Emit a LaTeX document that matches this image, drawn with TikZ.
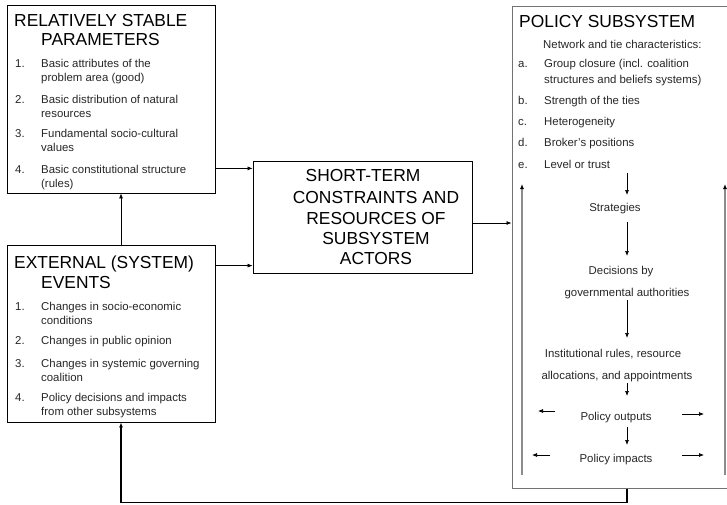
\documentclass[tikz,border=0pt]{standalone}
\usepackage{fontspec}
\setmainfont{Liberation Sans}
\usetikzlibrary{arrows.meta,calc}
\begin{document}
\begin{tikzpicture}[x=1pt,y=-1pt,
  box/.style={draw=black, line width=0.8pt, inner sep=0pt, minimum width=#1},
  gbox/.style={draw=black!55, line width=1pt, inner sep=0pt},
  ttl/.style={inner sep=0pt, anchor=base west, font=\fontsize{17.4}{20}\selectfont},
  ttc/.style={inner sep=0pt, anchor=base, font=\fontsize{17.4}{20}\selectfont},
  itx/.style={inner sep=0pt, anchor=base west, text=black!85, font=\fontsize{11.4}{13}\selectfont},
  flw/.style={inner sep=0pt, anchor=base, text=black!85, font=\fontsize{11.4}{13}\selectfont},
  arr/.style={-{Latex[length=5pt,width=4pt]}, line width=0.7pt},
  garr/.style={-{Latex[length=5pt,width=4pt,color=black]}, draw=black!45, line width=1.6pt},
]
\useasboundingbox (0,0) rectangle (727,505);
% boxes
\node[box=208, minimum height=188] (rsp) at (111,99) {};
\node[box=208, minimum height=177] (ext) at (111,333.5) {};
\node[box=219, minimum height=112] (sta) at (362.5,217) {};
\node[gbox, minimum width=233, minimum height=481] (pol) at (628.5,247.5) {};

% box 1 text
\node[ttl] (t1a) at (14,27) {RELATIVELY STABLE};
\node[ttl] (t1b) at (41,46) {PARAMETERS};
\node[itx] (n11) at (15,68) {1.};
\node[itx] (i11a) at (41,68) {Basic attributes of the};
\node[itx] (i11b) at (41,82) {problem area (good)};
\node[itx] (n12) at (15,104) {2.};
\node[itx] (i12a) at (41,104) {Basic distribution of natural};
\node[itx] (i12b) at (41,118) {resources};
\node[itx] (n13) at (15,138) {3.};
\node[itx] (i13a) at (41,138) {Fundamental socio-cultural};
\node[itx] (i13b) at (41,152) {values};
\node[itx] (n14) at (15,173) {4.};
\node[itx] (i14a) at (41,173) {Basic constitutional structure};
\node[itx] (i14b) at (41,187) {(rules)};

% box 2 text
\node[ttl] (t2a) at (14,268) {EXTERNAL (SYSTEM)};
\node[ttl] (t2b) at (41,288) {EVENTS};
\node[itx] (n21) at (15,310) {1.};
\node[itx] (i21a) at (41,310) {Changes in socio-economic};
\node[itx] (i21b) at (41,324) {conditions};
\node[itx] (n22) at (15,344) {2.};
\node[itx] (i22a) at (41,344) {Changes in public opinion};
\node[itx] (n23) at (15,367) {3.};
\node[itx] (i23a) at (41,367) {Changes in systemic governing};
\node[itx] (i23b) at (41,381) {coalition};
\node[itx] (n24) at (15,401) {4.};
\node[itx] (i24a) at (41,401) {Policy decisions and impacts};
\node[itx] (i24b) at (41,415) {from other subsystems};

% box 3 text
\node[ttc] (t3a) at (363,181) {SHORT-TERM};
\node[ttc] (t3b) at (376,203) {CONSTRAINTS AND};
\node[ttc] (t3c) at (376,224) {RESOURCES OF};
\node[ttc] (t3d) at (376,244) {SUBSYSTEM};
\node[ttc] (t3e) at (376,264) {ACTORS};

% policy subsystem text
\node[ttl] (t4) at (519,28) {POLICY SUBSYSTEM};
\node[itx] (net) at (543,49) {Network and tie characteristics:};
\node[itx] (la) at (518,68) {a.};
\node[itx] (pa1) at (544,68) {Group closure (incl. coalition};
\node[itx] (pa2) at (544,84) {structures and beliefs systems)};
\node[itx] (lb) at (518,105) {b.};
\node[itx] (pb) at (544,105) {Strength of the ties};
\node[itx] (lc) at (518,126) {c.};
\node[itx] (pc) at (544,126) {Heterogeneity};
\node[itx] (ld) at (518,147) {d.};
\node[itx] (pd) at (544,147) {Broker's positions};
\node[itx] (le) at (518,168) {e.};
\node[itx] (pe) at (544,168) {Level or trust};

\node[flw] (strat) at (615,211) {Strategies};
\node[flw] (dec1) at (621,274) {Decisions by};
\node[flw] (dec2) at (627,296) {governmental authorities};
\node[flw] (ins1) at (613,357) {Institutional rules, resource};
\node[flw] (ins2) at (617,379) {allocations, and appointments};
\node[flw] (pout) at (616,420) {Policy outputs};
\node[flw] (pimp) at (616,462) {Policy impacts};

% inner flow arrows
\coordinate (f1s) at (627,173); \coordinate (f1e) at (627,195);
\coordinate (f2s) at (627,222); \coordinate (f2e) at (627,256);
\coordinate (f3s) at (627,300); \coordinate (f3e) at (627,338);
\coordinate (f4s) at (627,383); \coordinate (f4e) at (627,396);
\coordinate (f5s) at (627,427); \coordinate (f5e) at (627,445);
\draw[arr] (f1s) -- (f1e);
\draw[arr] (f2s) -- (f2e);
\draw[arr] (f3s) -- (f3e);
\draw[arr] (f4s) -- (f4e);
\draw[arr] (f5s) -- (f5e);

% side arrows
\coordinate (so1) at (555,411); \coordinate (so2) at (538,411);
\coordinate (so3) at (682,414); \coordinate (so4) at (704,414);
\coordinate (si1) at (550,455); \coordinate (si2) at (532,455);
\coordinate (si3) at (682,455); \coordinate (si4) at (704,455);
\draw[arr] (so1) -- (so2);
\draw[arr] (so3) -- (so4);
\draw[arr] (si1) -- (si2);
\draw[arr] (si3) -- (si4);

% gray vertical arrows
\coordinate (gl1) at (522,475); \coordinate (gl2) at (522,184);
\coordinate (gr1) at (725,475); \coordinate (gr2) at (725,184);
\draw[garr] (gl1) -- (gl2);
\draw[garr] (gr1) -- (gr2);

% connectors between boxes
\draw[arr] ([xshift=10pt]ext.north) -- ([xshift=10pt]rsp.south);
\coordinate (c1) at ([yshift=25pt]rsp.south east);
\draw[arr] (c1) -- (c1 -| sta.west);
\coordinate (c2) at ([yshift=-21pt]ext.north east);
\draw[arr] (c2) -- (c2 -| sta.west);
\coordinate (c3) at ([yshift=-6pt]sta.east);
\draw[arr] (c3) -- (c3 -| pol.west);
\coordinate (fb) at ([xshift=-1.5pt]pol.south);
\draw[-{Latex[length=5pt,width=4pt]}, line width=1.1pt] (fb) -- ++(0,14) -| ([xshift=10pt]ext.south);
\end{tikzpicture}
\end{document}
